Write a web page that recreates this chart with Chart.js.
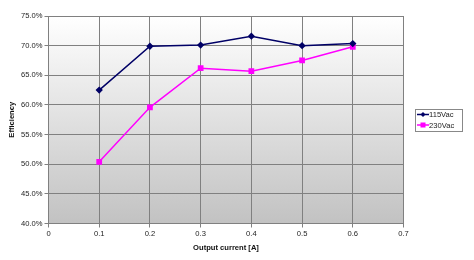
<!DOCTYPE html>
<html>
<head>
<meta charset="utf-8">
<script src="https://cdn.jsdelivr.net/npm/chart.js@4.4.1/dist/chart.umd.min.js"></script>
<style>
html,body{margin:0;padding:0;background:#fff;}
#wrap{position:relative;width:474px;height:260px;}
</style>
</head>
<body>
<div id="wrap"><canvas id="c" width="474" height="260"></canvas></div>
<script>
const currents = [0.1, 0.2, 0.3, 0.4, 0.5, 0.6];
const eff115 = [62.5, 69.9, 70.1, 71.6, 70.0, 70.35];
const eff230 = [50.4, 59.6, 66.2, 65.7, 67.5, 69.8];
const seriesNames = ['115Vac', '230Vac'];
const xTitle = 'Output current [A]';
const yTitle = 'Efficiency';

const FONT = "'Liberation Sans', Arial, sans-serif";
const FS = 7.6;

const bgPlugin = {
  id: 'plotBg',
  beforeDraw(chart) {
    const {ctx, chartArea: a} = chart;
    const g = ctx.createLinearGradient(0, a.top, 0, a.bottom);
    g.addColorStop(0, '#ffffff');
    g.addColorStop(1, '#c2c2c2');
    ctx.save();
    ctx.fillStyle = g;
    ctx.fillRect(a.left, a.top, a.right - a.left, a.bottom - a.top);
    ctx.restore();
  }
};

const legendPlugin = {
  id: 'boxLegend',
  afterDraw(chart) {
    const ctx = chart.ctx;
    const x0 = 415, y0 = 109, w = 47, h = 22;
    ctx.save();
    ctx.fillStyle = '#ffffff';
    ctx.fillRect(x0, y0, w, h);
    ctx.strokeStyle = '#888888';
    ctx.lineWidth = 1;
    ctx.strokeRect(x0 + 0.5, y0 + 0.5, w, h);
    chart.data.datasets.forEach((ds, i) => {
      const y = y0 + 5.5 + i * 10.5;
      ctx.strokeStyle = ds.borderColor;
      ctx.lineWidth = 1.5;
      ctx.beginPath();
      ctx.moveTo(x0 + 2, y);
      ctx.lineTo(x0 + 14, y);
      ctx.stroke();
      ctx.fillStyle = ds.borderColor;
      if (i === 0) {
        ctx.beginPath();
        ctx.moveTo(x0 + 8, y - 2.5);
        ctx.lineTo(x0 + 10.5, y);
        ctx.lineTo(x0 + 8, y + 2.5);
        ctx.lineTo(x0 + 5.5, y);
        ctx.closePath();
        ctx.fill();
      } else {
        ctx.fillRect(x0 + 5.5, y - 2.5, 5, 5);
      }
      ctx.fillStyle = '#222';
      ctx.font = FS + 'px ' + FONT;
      ctx.textBaseline = 'middle';
      ctx.textAlign = 'left';
      ctx.fillText(ds.label, x0 + 14, y + 0.5);
    });
    ctx.restore();
  }
};

const toPts = (ys) => currents.map((x, i) => ({x, y: ys[i]}));

new Chart(document.getElementById('c'), {
  type: 'line',
  data: {
    datasets: [
      {
        label: seriesNames[0],
        data: toPts(eff115),
        borderColor: '#000066',
        backgroundColor: '#000066',
        borderWidth: 1.5,
        pointStyle: 'rectRot',
        pointRadius: 2.6,
        pointHoverRadius: 2.6,
        tension: 0
      },
      {
        label: seriesNames[1],
        data: toPts(eff230),
        borderColor: '#ff00ff',
        backgroundColor: '#ff00ff',
        borderWidth: 1.5,
        pointStyle: 'rect',
        pointRadius: 3,
        pointHoverRadius: 3,
        tension: 0
      }
    ]
  },
  options: {
    responsive: false,
    animation: false,
    devicePixelRatio: 1,
    layout: {padding: {top: 16, right: 70.5, left: 7, bottom: 8}},
    plugins: {legend: {display: false}, tooltip: {enabled: false}},
    scales: {
      x: {
        type: 'linear',
        min: 0, max: 0.7,
        ticks: {
          stepSize: 0.1,
          color: '#222',
          font: {family: FONT, size: FS},
          padding: 2,
          callback: (v) => String(Number(v.toFixed(1)))
        },
        grid: {color: '#808080', lineWidth: 1, tickLength: 4, drawTicks: true},
        border: {color: '#808080', width: 1},
        title: {display: true, text: xTitle, color: '#111', font: {family: FONT, size: FS, weight: 'bold'}, padding: {top: 3, bottom: 0}},
        afterFit: (s) => { s.height = 28.5; }
      },
      y: {
        min: 40, max: 75,
        ticks: {
          stepSize: 5,
          color: '#222',
          font: {family: FONT, size: FS},
          padding: 2,
          callback: (v) => v.toFixed(1) + '%'
        },
        grid: {color: '#808080', lineWidth: 1, tickLength: 4, drawTicks: true},
        border: {color: '#808080', width: 1},
        title: {display: true, text: yTitle, color: '#111', font: {family: FONT, size: FS, weight: 'bold'}, padding: {top: 0, bottom: 0}},
        afterFit: (s) => { s.width = 41.5; }
      }
    }
  },
  plugins: [bgPlugin, legendPlugin]
});
</script>
</body>
</html>
